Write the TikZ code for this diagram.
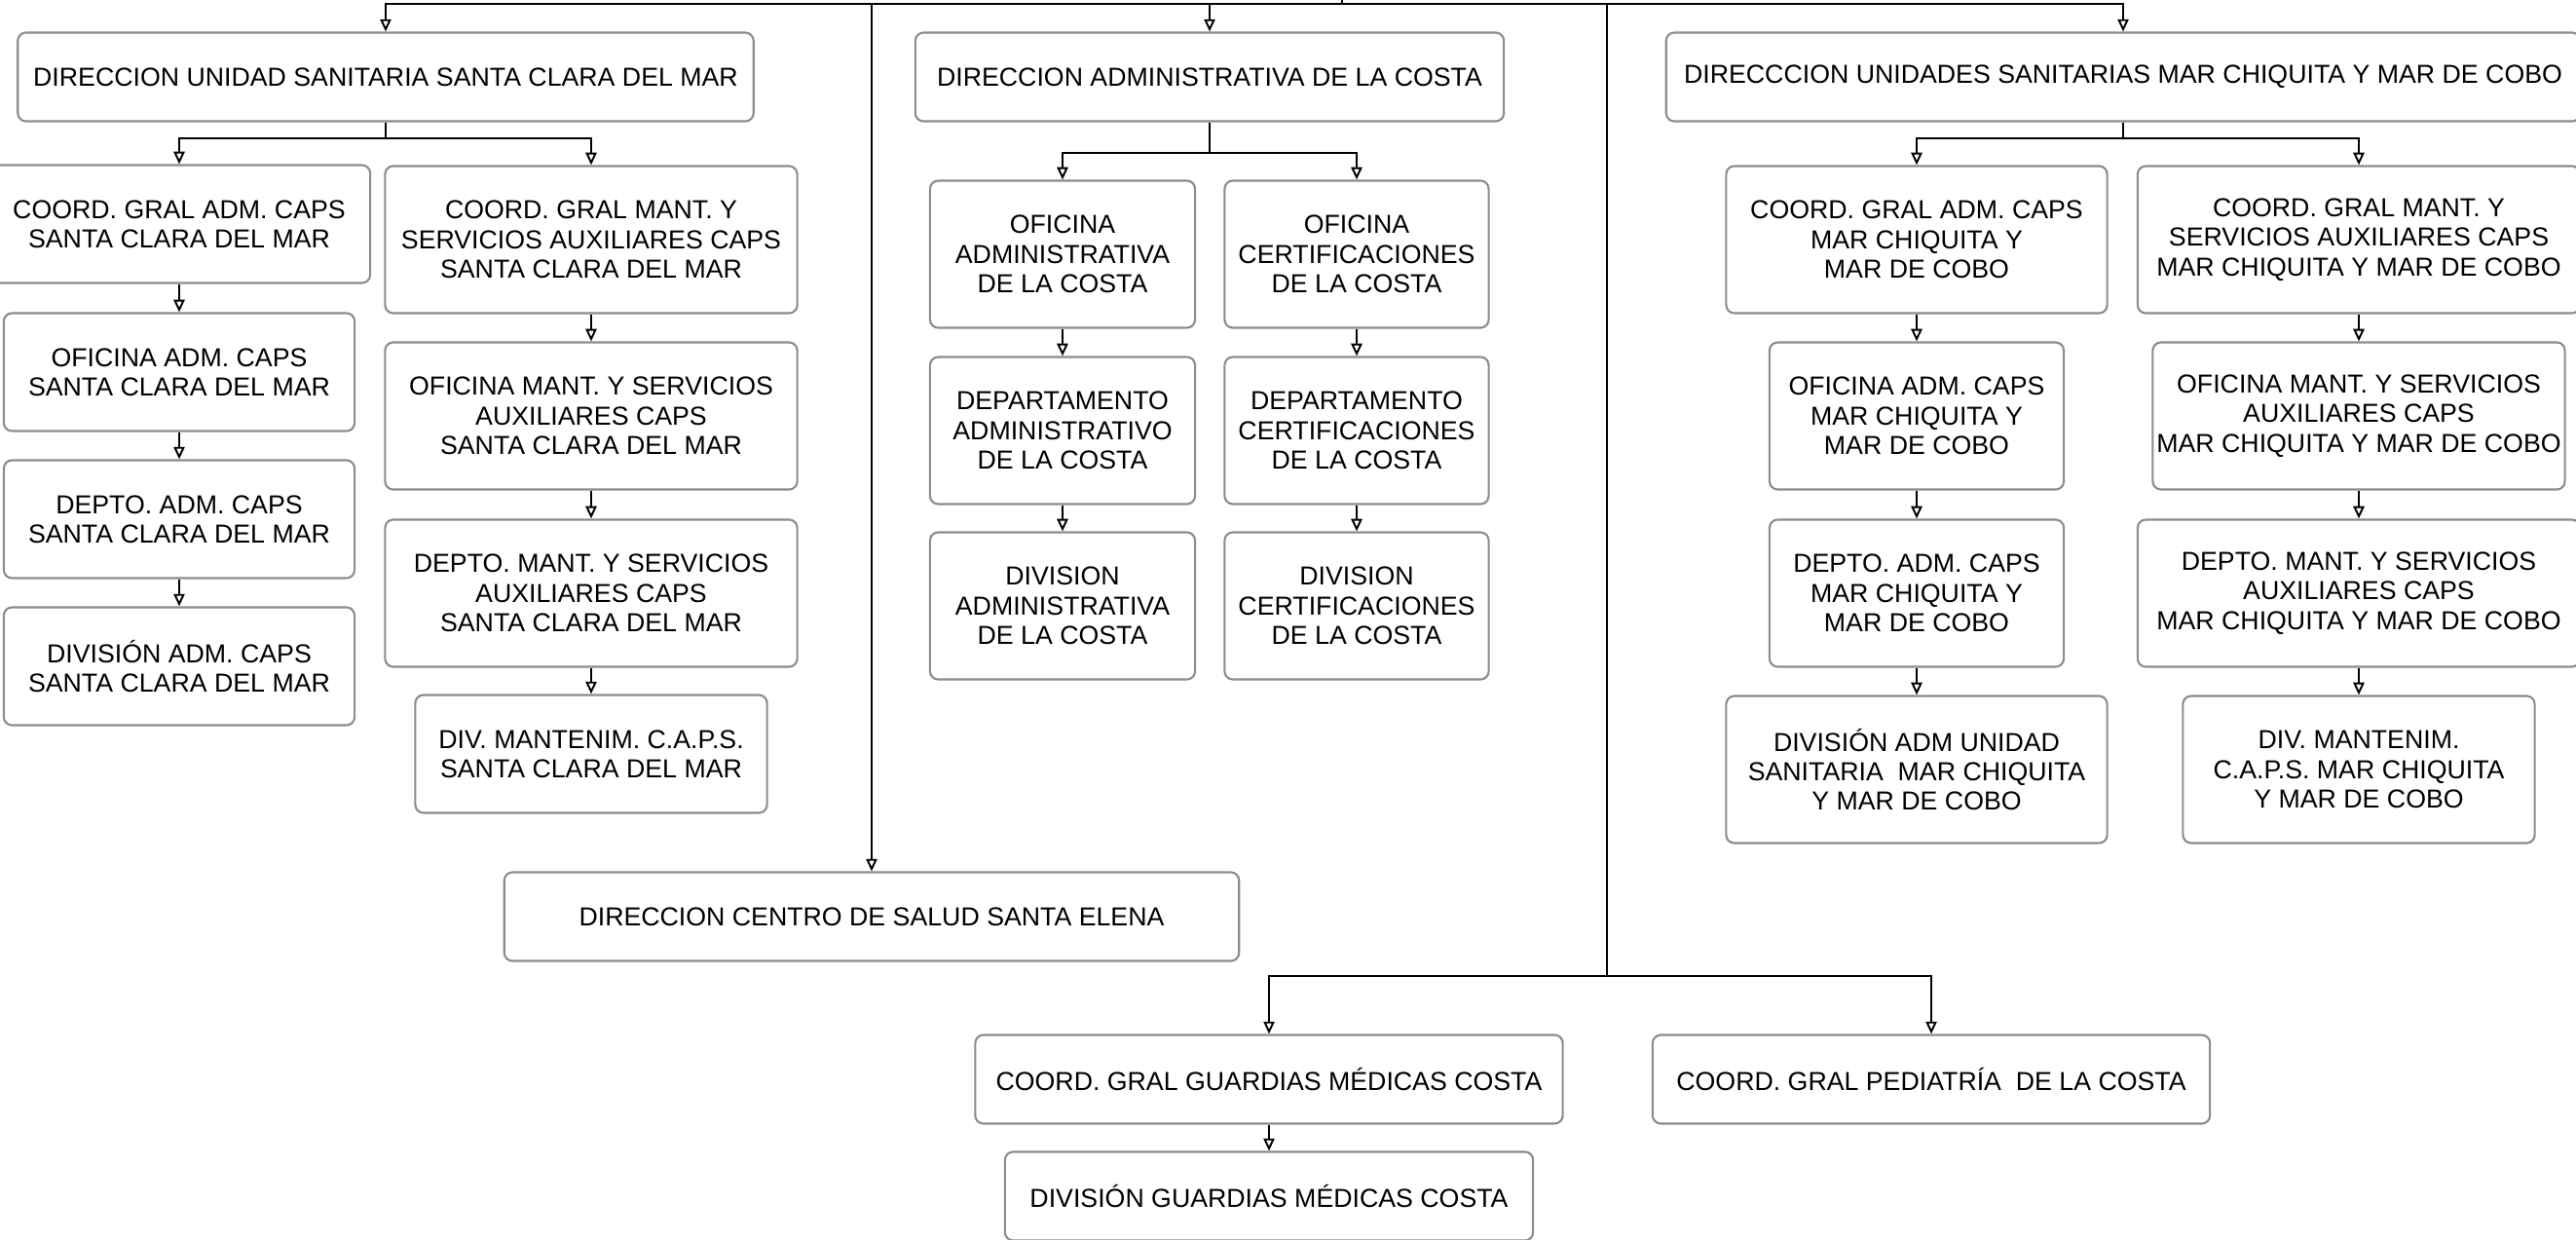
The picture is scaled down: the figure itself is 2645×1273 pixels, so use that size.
\documentclass[tikz,border=0pt]{standalone}
\usepackage{fontspec}
\setmainfont{Liberation Sans}
\usetikzlibrary{arrows.meta}

\begin{document}
\begin{tikzpicture}[x=0.01cm, y=-0.01cm,
  box/.style={draw=black!45, line width=0.6pt, rounded corners=2.4pt, fill=white, align=center,
    inner sep=0pt, font=\fontsize{7.6}{8.6}\selectfont, minimum height=0.91cm},
  mid/.style={box, minimum height=1.21cm},
  tall/.style={box, minimum height=1.51cm},
  bus/.style={line width=0.55pt},
  link/.style={bus, -{Triangle[open, width=3.2pt, length=3.6pt]}}]
\useasboundingbox (0,0) rectangle (2645,1273);

% Santa Clara del Mar
\node[box, minimum width=7.55cm] (dirSC) at (396,79) {DIRECCION UNIDAD SANITARIA SANTA CLARA DEL MAR};
\node[mid, minimum width=3.92cm] (coordAdmSC) at (184,230) {COORD. GRAL ADM. CAPS\\SANTA CLARA DEL MAR};
\node[tall, minimum width=4.23cm] (coordMantSC) at (607,246) {COORD. GRAL MANT. Y\\SERVICIOS AUXILIARES CAPS\\SANTA CLARA DEL MAR};
\node[mid, minimum width=3.60cm] (ofAdmSC) at (184,382) {OFICINA ADM. CAPS\\SANTA CLARA DEL MAR};
\node[tall, minimum width=4.23cm] (ofMantSC) at (607,427) {OFICINA MANT. Y SERVICIOS\\AUXILIARES CAPS\\SANTA CLARA DEL MAR};
\node[mid, minimum width=3.60cm] (deptAdmSC) at (184,533) {DEPTO. ADM. CAPS\\SANTA CLARA DEL MAR};
\node[tall, minimum width=4.23cm] (deptMantSC) at (607,609) {DEPTO. MANT. Y SERVICIOS\\AUXILIARES CAPS\\SANTA CLARA DEL MAR};
\node[mid, minimum width=3.60cm] (divAdmSC) at (184,684) {DIVISIÓN ADM. CAPS\\SANTA CLARA DEL MAR};
\node[mid, minimum width=3.61cm] (divMantSC) at (607,774) {DIV. MANTENIM. C.A.P.S.\\SANTA CLARA DEL MAR};

% Costa
\node[box, minimum width=6.04cm] (dirAdm) at (1242,79) {DIRECCION ADMINISTRATIVA DE LA COSTA};
\node[tall, minimum width=2.72cm] (ofAdm) at (1091,261) {OFICINA\\ADMINISTRATIVA\\DE LA COSTA};
\node[tall, minimum width=2.71cm] (ofCert) at (1393,261) {OFICINA\\CERTIFICACIONES\\DE LA COSTA};
\node[tall, minimum width=2.72cm] (deptAdm) at (1091,442) {DEPARTAMENTO\\ADMINISTRATIVO\\DE LA COSTA};
\node[tall, minimum width=2.71cm] (deptCert) at (1393,442) {DEPARTAMENTO\\CERTIFICACIONES\\DE LA COSTA};
\node[tall, minimum width=2.72cm] (divAdm) at (1091,622) {DIVISION\\ADMINISTRATIVA\\DE LA COSTA};
\node[tall, minimum width=2.71cm] (divCert) at (1393,622) {DIVISION\\CERTIFICACIONES\\DE LA COSTA};

% Mar Chiquita y Mar de Cobo
\node[box, minimum width=9.38cm] (dirMC) at (2180,79) {DIRECCCION UNIDADES SANITARIAS MAR CHIQUITA Y MAR DE COBO};
\node[tall, minimum width=3.91cm] (coordAdmMC) at (1968,246) {COORD. GRAL ADM. CAPS\\MAR CHIQUITA Y\\MAR DE COBO};
\node[tall, minimum width=4.54cm] (coordMantMC) at (2422,246) {COORD. GRAL MANT. Y\\SERVICIOS AUXILIARES CAPS\\MAR CHIQUITA Y MAR DE COBO};
\node[tall, minimum width=3.02cm] (ofAdmMC) at (1968,427) {OFICINA ADM. CAPS\\MAR CHIQUITA Y\\MAR DE COBO};
\node[tall, minimum width=4.23cm] (ofMantMC) at (2422,427) {OFICINA MANT. Y SERVICIOS\\AUXILIARES CAPS\\MAR CHIQUITA Y MAR DE COBO};
\node[tall, minimum width=3.02cm] (deptAdmMC) at (1968,609) {DEPTO. ADM. CAPS\\MAR CHIQUITA Y\\MAR DE COBO};
\node[tall, minimum width=4.54cm] (deptMantMC) at (2422,609) {DEPTO. MANT. Y SERVICIOS\\AUXILIARES CAPS\\MAR CHIQUITA Y MAR DE COBO};
\node[tall, minimum width=3.91cm] (divAdmMC) at (1968,790) {DIVISIÓN ADM UNIDAD\\SANITARIA\ \ MAR CHIQUITA\\Y MAR DE COBO};
\node[tall, minimum width=3.61cm] (divMantMC) at (2422,790) {DIV. MANTENIM.\\C.A.P.S. MAR CHIQUITA\\Y MAR DE COBO};

% Santa Elena y guardias
\node[box, minimum width=7.54cm] (santaElena) at (895,941) {DIRECCION CENTRO DE SALUD SANTA ELENA};
\node[box, minimum width=6.03cm] (coordGuard) at (1303,1108) {COORD. GRAL GUARDIAS MÉDICAS COSTA};
\node[box, minimum width=5.72cm] (coordPed) at (1983,1108) {COORD. GRAL PEDIATRÍA\ \ DE LA COSTA};
\node[box, minimum width=5.42cm] (divGuard) at (1303,1228) {DIVISIÓN GUARDIAS MÉDICAS COSTA};

\coordinate (root) at (1378,-5);
\coordinate (rail) at (1378,4);
\coordinate (fork) at (1650,1002);

\draw[bus] (root) -- (rail);
\foreach \n in {dirSC, santaElena, dirAdm, dirMC}
  \draw[link] (rail) -| (\n.north);
\draw[bus] (rail) -| (fork);
\draw[link] (fork) -| (coordGuard.north);
\draw[link] (fork) -| (coordPed.north);

\draw[link] (dirSC.south) -- ++(0,16) -| (coordAdmSC.north);
\draw[link] (dirSC.south) -- ++(0,16) -| (coordMantSC.north);
\draw[link] (dirAdm.south) -- ++(0,31) -| (ofAdm.north);
\draw[link] (dirAdm.south) -- ++(0,31) -| (ofCert.north);
\draw[link] (dirMC.south) -- ++(0,16) -| (coordAdmMC.north);
\draw[link] (dirMC.south) -- ++(0,16) -| (coordMantMC.north);

\foreach \a/\b in {coordAdmSC/ofAdmSC, ofAdmSC/deptAdmSC, deptAdmSC/divAdmSC,
    coordMantSC/ofMantSC, ofMantSC/deptMantSC, deptMantSC/divMantSC,
    ofAdm/deptAdm, deptAdm/divAdm, ofCert/deptCert, deptCert/divCert,
    coordAdmMC/ofAdmMC, ofAdmMC/deptAdmMC, deptAdmMC/divAdmMC,
    coordMantMC/ofMantMC, ofMantMC/deptMantMC, deptMantMC/divMantMC,
    coordGuard/divGuard}
  \draw[link] (\a.south) -- (\b.north);
\end{tikzpicture}
\end{document}
